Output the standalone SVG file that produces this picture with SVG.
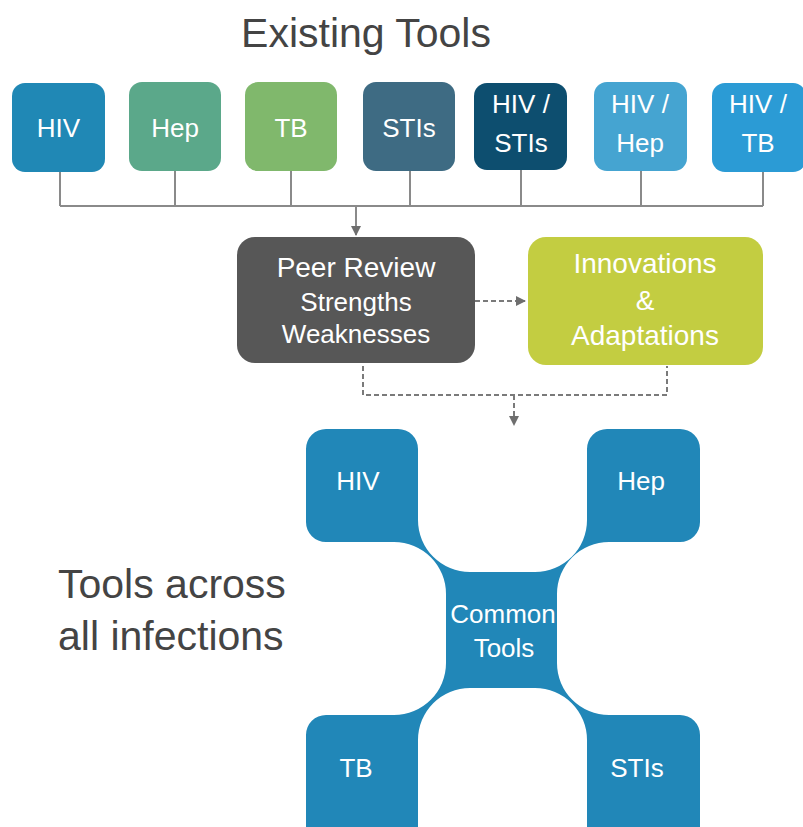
<svg xmlns="http://www.w3.org/2000/svg" width="803" height="827" viewBox="0 0 803 827">
<style>
text{font-family:"Liberation Sans",Arial,sans-serif;}
.lbl{fill:#fff;font-size:26px;text-anchor:middle;}
.big{fill:#fff;font-size:28px;text-anchor:middle;}
.hd{fill:#444;font-size:41px;}
.ln{stroke:#8a8a8a;stroke-width:2;fill:none;}
.dl{stroke:#7a7a7a;stroke-width:2;fill:none;stroke-dasharray:5 3;}
</style>
<defs>
<marker id="ah" viewBox="0 0 10 10" refX="9" refY="5" markerWidth="5" markerHeight="5" orient="auto" markerUnits="strokeWidth">
<path d="M0,0 L10,5 L0,10 z" fill="#6e6e6e"/>
</marker>
</defs>
<rect width="803" height="827" fill="#fff"/>
<text class="hd" x="366" y="47" text-anchor="middle">Existing Tools</text>
<g id="connectors">
<path class="ln" d="M60,172 V206 M175,171 V206 M291,171 V206 M410,171 V206 M521,170 V206 M641,171 V206 M763,172 V206 M60,206 H763"/>
<path class="ln" d="M356,206 V235" marker-end="url(#ah)"/>
<path class="dl" d="M475,301 H525" marker-end="url(#ah)"/>
<path class="dl" d="M363,366 V395 H667 V366"/>
<path class="dl" d="M514,395 V425" marker-end="url(#ah)"/>
</g>
<g id="t-hiv"><rect x="12" y="83" width="93" height="89" rx="13" fill="#2088b5"/><text class="lbl" x="58.5" y="137">HIV</text></g>
<g id="t-hep"><rect x="129" y="82" width="92" height="89" rx="13" fill="#5ba88a"/><text class="lbl" x="175" y="137">Hep</text></g>
<g id="t-tb"><rect x="245" y="82" width="92" height="89" rx="13" fill="#80b86c"/><text class="lbl" x="291" y="137">TB</text></g>
<g id="t-stis"><rect x="363" y="82" width="92" height="89" rx="13" fill="#3e6b83"/><text class="lbl" x="409" y="137">STIs</text></g>
<g id="t-hivstis"><rect x="474" y="83" width="93" height="87" rx="13" fill="#0d4e6f"/><text class="lbl" x="521" y="113">HIV /</text><text class="lbl" x="521" y="152">STIs</text></g>
<g id="t-hivhep"><rect x="594" y="82" width="93" height="89" rx="13" fill="#45a4d1"/><text class="lbl" x="640" y="113">HIV /</text><text class="lbl" x="640" y="152">Hep</text></g>
<g id="t-hivtb"><rect x="712" y="83" width="94" height="89" rx="13" fill="#2b9bd5"/><text class="lbl" x="758" y="113">HIV /</text><text class="lbl" x="758" y="152">TB</text></g>
<g id="peer"><rect x="237" y="237" width="238" height="126" rx="18" fill="#575757"/>
<text class="big" x="356" y="277">Peer Review</text>
<text class="lbl" x="356" y="311">Strengths</text>
<text class="lbl" x="356" y="343">Weaknesses</text></g>
<g id="innov"><rect x="528" y="237" width="235" height="128" rx="18" fill="#c3cd41"/>
<text class="big" x="645" y="273">Innovations</text>
<text class="big" x="645" y="310">&amp;</text>
<text class="big" x="645" y="345">Adaptations</text></g>
<text class="hd" x="58" y="598">Tools across</text>
<text class="hd" x="58" y="650">all infections</text>
<g id="common">
<path fill="#2187b8" d="M326,429 H398 A20 20 0 0 1 418,449 V520 A52 52 0 0 0 470,572 H535 A52 52 0 0 0 587,520 V449 A20 20 0 0 1 607,429 H680 A20 20 0 0 1 700,449 V522 A20 20 0 0 1 680,542 H609 A52 52 0 0 0 557,594 V663 A52 52 0 0 0 609,715 H680 A20 20 0 0 1 700,735 V845 H587 V740 A52 52 0 0 0 535,688 H470 A52 52 0 0 0 418,740 V845 H306 V735 A20 20 0 0 1 326,715 H394 A52 52 0 0 0 446,663 V594 A52 52 0 0 0 394,542 H326 A20 20 0 0 1 306,522 V449 A20 20 0 0 1 326,429 Z"/>
<text class="lbl" x="358" y="490">HIV</text>
<text class="lbl" x="641" y="490">Hep</text>
<text class="lbl" x="503" y="623">Common</text>
<text class="lbl" x="504" y="657">Tools</text>
<text class="lbl" x="356" y="777">TB</text>
<text class="lbl" x="637" y="777">STIs</text>
</g>
</svg>
